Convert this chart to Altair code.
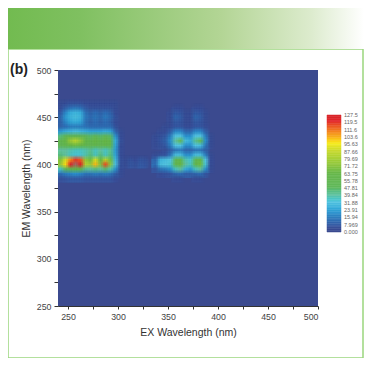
import altair as alt
import pandas as pd

# Emission rows (nm) and excitation columns (nm) of the non-background part of the map
EM_ROWS = [465, 460, 455, 450, 445, 440, 435, 430, 425, 420, 415, 410, 405, 400, 395, 390, 385]
EX_LEFT = [242.5, 247.5, 252.5, 257.5, 262.5, 267.5, 272.5, 277.5, 282.5, 287.5, 292.5, 297.5, 302.5]
LEFT = [
    [3, 4, 5, 5, 5, 4, 3, 3, 3, 3, 3, 3, 2],
    [4, 8, 12, 14, 12, 7, 5, 5, 5, 5, 5, 3, 2],
    [7, 18, 26, 28, 26, 13, 9, 12, 9, 12, 9, 4, 2],
    [10, 22, 28, 30, 28, 15, 11, 14, 11, 15, 11, 5, 2],
    [9, 18, 24, 26, 24, 13, 9, 12, 9, 12, 9, 4, 2],
    [9, 12, 15, 16, 15, 13, 11, 11, 11, 11, 11, 5, 2],
    [22, 26, 28, 30, 28, 26, 24, 24, 24, 26, 24, 10, 3],
    [44, 50, 52, 54, 52, 48, 46, 48, 46, 48, 46, 20, 4],
    [56, 64, 76, 84, 74, 62, 58, 64, 58, 64, 60, 26, 5],
    [52, 58, 64, 66, 64, 58, 54, 58, 54, 60, 56, 24, 4],
    [40, 40, 38, 36, 36, 38, 42, 36, 40, 36, 42, 22, 4],
    [44, 40, 36, 34, 34, 38, 44, 36, 44, 36, 44, 24, 4],
    [70, 90, 108, 118, 114, 74, 66, 90, 64, 84, 66, 28, 5],
    [76, 98, 122, 127, 124, 82, 76, 102, 70, 116, 72, 30, 5],
    [36, 48, 58, 62, 58, 42, 40, 44, 40, 46, 38, 20, 4],
    [12, 16, 18, 20, 18, 14, 14, 16, 14, 16, 14, 8, 3],
    [5, 6, 7, 7, 7, 6, 6, 6, 6, 6, 6, 4, 2],
]
EX_RIGHT = [332.5, 337.5, 342.5, 347.5, 352.5, 357.5, 362.5, 367.5, 372.5, 377.5, 382.5, 387.5, 392.5]
RIGHT = [
    [2, 2, 2, 2, 2, 2, 2, 2, 2, 2, 2, 2, 2],
    [2, 2, 2, 2, 2, 4, 4, 2, 2, 4, 4, 2, 2],
    [2, 2, 2, 2, 3, 7, 6, 3, 3, 7, 6, 3, 2],
    [2, 2, 2, 2, 4, 10, 8, 4, 4, 10, 8, 3, 2],
    [2, 2, 2, 2, 3, 7, 6, 3, 3, 7, 6, 3, 2],
    [2, 2, 2, 3, 4, 6, 6, 4, 4, 6, 6, 4, 2],
    [2, 2, 3, 4, 8, 18, 18, 10, 10, 18, 18, 8, 2],
    [2, 3, 5, 7, 16, 32, 32, 20, 20, 32, 32, 16, 3],
    [2, 4, 6, 9, 20, 40, 48, 30, 26, 42, 50, 20, 3],
    [2, 3, 5, 7, 16, 32, 32, 20, 20, 32, 30, 14, 3],
    [2, 2, 2, 3, 8, 14, 16, 10, 10, 14, 14, 8, 2],
    [2, 3, 5, 6, 14, 30, 30, 20, 20, 30, 30, 16, 3],
    [2, 10, 28, 30, 32, 50, 58, 38, 34, 52, 60, 32, 4],
    [2, 12, 30, 32, 34, 56, 64, 40, 36, 58, 66, 34, 4],
    [2, 6, 14, 16, 20, 36, 40, 26, 22, 36, 40, 20, 3],
    [2, 2, 4, 5, 6, 10, 12, 8, 8, 10, 12, 6, 2],
    [2, 2, 2, 2, 2, 3, 3, 2, 2, 3, 3, 2, 2],
]
EX_FAINT = [307.5, 312.5, 317.5, 322.5, 327.5]
FAINT_405 = [3, 5, 4, 6, 5]
FAINT_400 = [3, 6, 5, 7, 6]

LEGEND_LABELS = ["127.5", "119.5", "111.6", "103.6", "95.63", "87.66", "79.69", "71.72",
                 "63.75", "55.78", "47.81", "39.84", "31.88", "23.91", "15.94", "7.969", "0.000"]
COLOR_DOMAIN = [0, 4, 8, 16, 24, 32, 40, 48, 64, 72, 88, 96, 104, 112, 120, 126, 127.5]
COLOR_RANGE = ["#3b4a8f", "#3a4f98", "#3560a8", "#2f80c0", "#33a6d8", "#55c4e0", "#62c2a0", "#62b85c",
               "#68b84a", "#8ec63f", "#c9da2f", "#f6ec1f", "#f7a81e", "#ef6b23", "#e3262a", "#d8262a", "#808080"]
X_TICKS = [250, 275, 300, 325, 350, 375, 400, 425, 450, 475, 500]
Y_TICKS = [250, 275, 300, 325, 350, 375, 400, 425, 450, 475, 500]
SOFTEN = [-1.7, 0, 1.7]  # offsets (nm) of the overlaid copies that soften the cell edges

FONT = "Liberation Sans"
rows = []
for em, vals in zip(EM_ROWS, LEFT):
    rows += [{"ex": x, "em": em, "v": v} for x, v in zip(EX_LEFT, vals)]
for em, vals in zip(EM_ROWS, RIGHT):
    rows += [{"ex": x, "em": em, "v": v} for x, v in zip(EX_RIGHT, vals)]
rows += [{"ex": x, "em": 405, "v": v} for x, v in zip(EX_FAINT, FAINT_405)]
rows += [{"ex": x, "em": 400, "v": v} for x, v in zip(EX_FAINT, FAINT_400)]
df = pd.DataFrame(rows)
df = df[df.v > 2]  # lowest cells are the plain background rectangle

color_scale = alt.Scale(domain=COLOR_DOMAIN, range=COLOR_RANGE, clamp=True)
xs = alt.Scale(domain=[240, 500], nice=False, zero=False)
ys = alt.Scale(domain=[250, 500], nice=False, zero=False)
W, H = 260, 236

bg = alt.Chart(pd.DataFrame({"a": [240], "b": [500], "c": [250], "d": [500]})).mark_rect(color="#3b4a8f").encode(
    x=alt.X("a:Q", scale=xs, axis=alt.Axis(
        values=X_TICKS, title="EX Wavelength (nm)", grid=False, tickSize=3, tickColor="#333", domainColor="#333",
        labelExpr="datum.value % 50 == 0 ? datum.label : ''", labelFont=FONT, labelFontSize=8.8, labelColor="#444",
        titleFont=FONT, titleFontSize=10.5, titleFontWeight="normal", titleColor="#333", titlePadding=7,
        labelPadding=3, labelOverlap=False, format="d")),
    x2="b:Q",
    y=alt.Y("c:Q", scale=ys, axis=alt.Axis(
        values=Y_TICKS, title="EM Wavelength (nm)", grid=False, tickSize=4, tickColor="#333", domainColor="#333",
        labelExpr="datum.value % 50 == 0 ? datum.label : ''", labelFont=FONT, labelFontSize=8.8, labelColor="#444",
        titleFont=FONT, titleFontSize=10.5, titleFontWeight="normal", titleColor="#333", titlePadding=5,
        labelPadding=3, labelOverlap=False, format="d")),
    y2="d:Q",
)

cell_layers = []
k = 0
for dy in SOFTEN:
    for dx in SOFTEN:
        k += 1
        d = df.copy()
        d["x0"], d["x1"] = d.ex - 2.5 + dx, d.ex + 2.5 + dx
        d["y0"], d["y1"] = d.em - 2.5 + dy, d.em + 2.5 + dy
        cell_layers.append(
            alt.Chart(d).mark_rect(opacity=1 / k, clip=True).encode(
                x=alt.X("x0:Q", scale=xs, axis=None), x2="x1:Q",
                y=alt.Y("y0:Q", scale=ys, axis=None), y2="y1:Q",
                color=alt.Color("v:Q", scale=color_scale, legend=None),
            )
        )

# Colour bar beside the plot, drawn through the same colour scale
bar_vals = [i * 127.5 / 68 for i in range(68)]
bar = pd.DataFrame({"v": bar_vals, "t": [v + 127.5 / 68 for v in bar_vals]})
ly = alt.Scale(domain=[0, 127.5], range=[162, 45])
cbar = alt.Chart(bar).mark_rect(strokeWidth=0.5).encode(
    x=alt.value(269), x2=alt.value(283),
    y=alt.Y("v:Q", scale=ly, axis=None), y2="t:Q",
    color=alt.Color("v:Q", scale=color_scale, legend=None),
    stroke=alt.Stroke("v:Q", scale=color_scale, legend=None),
)
lab = pd.DataFrame({"lab": LEGEND_LABELS, "p": [127.5 - i * 127.5 / 16 for i in range(17)]})
ctext = alt.Chart(lab).mark_text(align="left", baseline="middle", font=FONT, fontSize=5.5, color="#666").encode(
    x=alt.value(286), y=alt.Y("p:Q", scale=ly, axis=None), text="lab:N")

# Page decoration: banner, frame and panel letter
banner = alt.Chart(pd.DataFrame({"k": [0]})).mark_rect(
    color=alt.LinearGradient(gradient="linear", x1=0, x2=1, y1=0, y2=0, stops=[
        alt.GradientStop(offset=0, color="#72bb50"), alt.GradientStop(offset=0.2, color="#7fc060"),
        alt.GradientStop(offset=0.6, color="#b3d595"), alt.GradientStop(offset=0.85, color="#dcebcd"),
        alt.GradientStop(offset=1, color="#ffffff")])
).encode(x=alt.value(-50), x2=alt.value(306), y=alt.value(-62), y2=alt.value(-21))
frame = alt.Chart(pd.DataFrame({"k": [0]})).mark_rect(
    fillOpacity=0, stroke="#9bd67e", strokeWidth=1.5
).encode(x=alt.value(-50), x2=alt.value(305), y=alt.value(-21), y2=alt.value(288))
letter = alt.Chart(pd.DataFrame({"t": ["(b)"]})).mark_text(
    align="left", baseline="middle", font=FONT, fontSize=14, fontWeight="bold", color="#222"
).encode(x=alt.value(-48), y=alt.value(0), text="t:N")

chart = alt.layer(frame, banner, letter, bg, *cell_layers, cbar, ctext).resolve_scale(
    y="independent", x="independent"
).properties(
    width=W, height=H,
    autosize=alt.AutoSizeParams(type="none"),
    padding={"left": 50, "top": 62, "right": 46, "bottom": 52},
    background="#ffffff",
).configure_view(stroke=None)

chart.save("out.html", embed_options={"renderer": "svg", "actions": False})
